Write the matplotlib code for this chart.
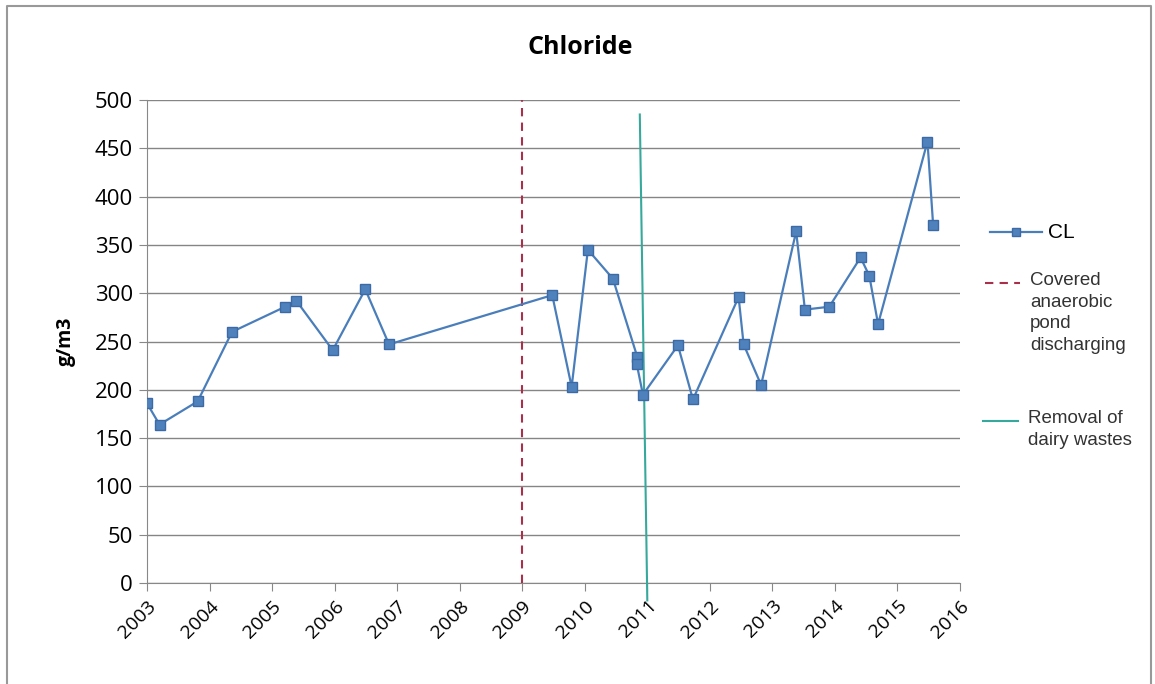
import matplotlib.pyplot as plt
from matplotlib.lines import Line2D

# data
years = [2003.0, 2003.2, 2003.81, 2004.36, 2005.21, 2005.39, 2005.97, 2006.49, 2006.87,
         2009.48, 2009.79, 2010.05, 2010.45, 2010.84, 2010.83, 2010.93, 2011.49, 2011.73,
         2012.46, 2012.54, 2012.82, 2013.38, 2013.52, 2013.91, 2014.41, 2014.55, 2014.69,
         2015.48, 2015.57]
chloride = [186, 164, 188, 260, 286, 292, 241, 304, 247,
            298, 203, 345, 315, 234, 227, 195, 246, 190,
            296, 247, 205, 364, 283, 286, 337, 318, 268,
            457, 371]
covered_x = [2009.0, 2009.0]
covered_y = [0, 500]
removal_x = [2010.88, 2011.0]
removal_y = [485, -18]
year_ticks = list(range(2003, 2017))
value_ticks = list(range(0, 501, 50))

plt.rcParams['font.family'] = ['Open Sans', 'DejaVu Sans']

fig = plt.figure(figsize=(11.55, 6.84), dpi=100)
ax = fig.add_axes([147/1155, 1 - 583/684, 813/1155, 483/684])

ax.plot(years, chloride, color='#4a7ebb', lw=1.6, marker='s', ms=6.5,
        mfc='#4f81bd', mec='#3b6aa5', zorder=4)
ax.plot(covered_x, covered_y, color='#a8304a', lw=1.5, ls=(0, (4, 3)), zorder=3)
ax.plot(removal_x, removal_y, color='#36a99c', lw=1.5, zorder=3, clip_on=False)

ax.set_xlim(2003, 2016)
ax.set_ylim(0, 500)
ax.set_xticks(year_ticks)
ax.set_xticklabels([str(y) for y in year_ticks], rotation=45, ha='right',
                   rotation_mode='anchor', fontsize=14)
ax.set_yticks(value_ticks)
ax.tick_params(axis='y', labelsize=16, length=6, color='#888888', pad=4)
ax.tick_params(axis='x', length=6, color='#888888', pad=4)
ax.yaxis.grid(True, color='#858585', lw=1)
ax.set_axisbelow(True)
for s in ['top', 'right']:
    ax.spines[s].set_visible(False)
for s in ['left', 'bottom']:
    ax.spines[s].set_color('#888888')

ax.set_ylabel('g/m3', fontsize=14, fontweight='bold')
ax.yaxis.set_label_coords(-0.088, 0.5)
fig.text(580/1155, 1 - 48/684, 'Chloride', fontsize=18, fontweight='bold',
         ha='center', va='center')

# legend drawn by hand, Excel style (handle next to first text line)
def fy(py):
    return 1 - py/684

def fx(px):
    return px/1155

fig.add_artist(Line2D([fx(990), fx(1042)], [fy(232), fy(232)], color='#4a7ebb', lw=1.6))
fig.add_artist(Line2D([fx(1016)], [fy(232)], marker='s', ms=6, mfc='#4f81bd', mec='#3b6aa5'))
fig.text(fx(1048), fy(233), 'CL', fontsize=15, family='Liberation Sans', va='center')
fig.add_artist(Line2D([fx(985), fx(1020)], [fy(283), fy(283)], color='#a8304a',
                      lw=1.5, ls=(0, (4, 3))))
fig.text(fx(1030), fy(272), 'Covered\nanaerobic\npond\ndischarging', fontsize=13.5,
         family='Liberation Sans', va='top', linespacing=1.35, color='#333333')
fig.add_artist(Line2D([fx(983), fx(1018)], [fy(421), fy(421)], color='#36a99c', lw=1.5))
fig.text(fx(1028), fy(410), 'Removal of\ndairy wastes', fontsize=13.5,
         family='Liberation Sans', va='top', linespacing=1.35, color='#333333')

# outer chart border (left, top, right)
fig.add_artist(Line2D([fx(7), fx(7), fx(1151), fx(1151)], [0, fy(6), fy(6), 0],
                      color='#999999', lw=1.5))

fig.savefig('out.png', dpi=100)
